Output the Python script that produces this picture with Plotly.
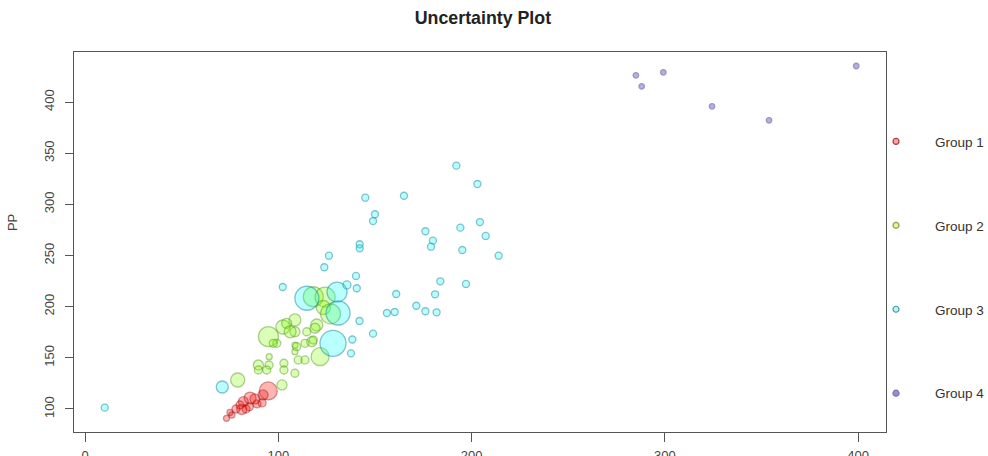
import plotly.graph_objects as go

# ---- data -------------------------------------------------------------
group_names = ["Group 1", "Group 2", "Group 3", "Group 4"]

g1_x = [94.8, 92.1, 85.4, 81.9, 89.0, 85.0, 81.1, 78.1, 80.2, 75.0, 73.2, 76.0, 83.3, 91.6, 87.9]
g1_y = [117.6, 113.7, 110.7, 107.1, 104.9, 102.2, 99.5, 100.0, 103.9, 96.6, 90.9, 94.1, 100.0, 105.9, 109.8]
g1_unc = [18, 10, 12, 10, 8, 8, 10, 8, 8, 6, 6, 6, 8, 8, 10]

g2_x = [94.9, 102.4, 108.6, 118.1, 124.2, 123.3, 121.6, 114.7, 119.9, 117.3, 113.8, 108.6,
        108.6, 110.3, 108.6, 113.8, 102.9, 102.9, 99.2, 95.3, 89.7, 95.2, 89.7, 94.0,
        79.0, 101.9, 119.0, 118.1, 108.6, 104.3, 106.1, 109.5, 97.4, 127.0]
g2_y = [170.7, 180.1, 187.0, 209.7, 209.4, 199.2, 151.1, 175.5, 182.1, 165.8, 164.2, 162.5,
        156.0, 147.9, 134.9, 147.9, 144.7, 138.1, 164.2, 151.1, 143.0, 143.0, 138.1, 138.1,
        128.3, 123.5, 178.9, 167.4, 175.5, 183.7, 175.5, 160.9, 164.2, 193.0]
g2_unc = [20, 14, 12, 20, 20, 14, 18, 8, 12, 10, 8, 6,
          6, 8, 8, 8, 8, 8, 8, 6, 10, 8, 8, 8,
          14, 10, 10, 8, 10, 10, 12, 8, 8, 20]

g3_x = [114.8, 130.4, 130.9, 128.3, 71.0, 135.5,
        10.2, 102.3, 123.8, 126.2, 140.2, 140.6, 142.0, 149.0, 138.3, 137.6, 142.1, 142.1,
        145.0, 150.0, 149.0, 165.0, 161.0, 156.2, 160.2, 171.4, 176.1, 181.9, 181.1, 183.8,
        176.1, 180.0, 179.0, 192.1, 203.0, 194.2, 204.3, 207.3, 195.2, 197.1, 214.0]
g3_y = [208.2, 214.3, 193.8, 164.2, 121.5, 221.2,
        101.3, 219.2, 238.5, 249.8, 230.0, 218.0, 186.0, 173.6, 167.9, 154.4, 261.0, 257.0,
        306.5, 290.3, 283.7, 308.4, 212.4, 193.8, 194.8, 200.9, 195.5, 194.5, 212.1, 224.8,
        273.7, 264.5, 258.6, 337.8, 319.9, 277.2, 282.7, 269.1, 255.4, 222.2, 249.8]
g3_unc = [24, 20, 24, 26, 12, 8,
          7, 7, 7, 7, 7, 7, 7, 7, 7, 7, 7, 7,
          7, 7, 7, 7, 7, 7, 7, 7, 7, 7, 7, 7,
          7, 7, 7, 7, 7, 7, 7, 7, 7, 7, 7]

g4_x = [285.0, 288.0, 299.2, 324.4, 353.9, 399.0]
g4_y = [426.1, 415.4, 429.0, 395.8, 382.1, 435.2]
g4_unc = [5.5, 5.5, 5.5, 5.5, 5.5, 5.5]

x_ticks = [0, 100, 200, 300, 400]
y_ticks = [100, 150, 200, 250, 300, 350, 400]

# ---- styling ----------------------------------------------------------
FONT = "Liberation Sans, Arial, sans-serif"
fills = ["rgba(255,0,0,0.42)", "rgba(127,255,0,0.40)", "rgba(0,255,255,0.38)", "rgba(140,120,200,0.85)"]
edges = ["rgba(150,0,0,0.6)", "rgba(70,140,0,0.6)", "rgba(20,140,165,0.75)", "rgba(110,90,170,0.9)"]
legend_fill = ["rgba(255,160,160,1)", "rgba(230,240,170,1)", "rgba(190,240,240,1)", "rgba(160,140,210,1)"]
legend_edge = ["#b04040", "#90a040", "#40a0a8", "#8070b0"]

series = [(g1_x, g1_y, g1_unc), (g2_x, g2_y, g2_unc), (g3_x, g3_y, g3_unc), (g4_x, g4_y, g4_unc)]

fig = go.Figure()
for i, (xs, ys, unc) in enumerate(series):
    fig.add_trace(go.Scatter(
        x=xs, y=ys, mode="markers", showlegend=False, legendgroup=group_names[i],
        marker=dict(size=unc, sizemode="diameter", color=fills[i],
                    line=dict(color=edges[i], width=1.3)),
        hoverinfo="x+y",
    ))

# legend entries with small uniform symbols
for i, name in enumerate(group_names):
    fig.add_trace(go.Scatter(
        x=[None], y=[None], mode="markers", name=name, legendgroup=name,
        marker=dict(size=6, color=legend_fill[i], line=dict(color=legend_edge[i], width=1.2)),
    ))

axis_common = dict(
    showgrid=False, zeroline=False, showline=True, mirror=True, automargin=False,
    linecolor="#555555", linewidth=1, ticks="outside", tickcolor="#555555",
    tickfont=dict(family=FONT, size=13, color="#444444"),
)

fig.update_layout(
    width=988, height=456,
    margin=dict(l=74, r=102, t=52, b=24, autoexpand=False),
    paper_bgcolor="white", plot_bgcolor="white",
    title=dict(text="<b>Uncertainty Plot</b>", x=0.4888, xanchor="center", y=0.962, yanchor="middle",
               automargin=False, font=dict(family=FONT, size=17.8, color="#222222")),
    xaxis=dict(range=[-5.7, 414.4], tickvals=x_ticks, ticklen=9, ticklabelstandoff=2, **axis_common),
    yaxis=dict(range=[77.5, 448.9], tickvals=y_ticks, ticklen=8, tickangle=-90,
               ticklabelstandoff=6, **axis_common),
    legend=dict(x=0.9643, xanchor="left", y=0.805, yanchor="top", itemwidth=68,
                tracegroupgap=63.4, bgcolor="rgba(0,0,0,0)",
                font=dict(family=FONT, size=13.5, color="#333333")),
    annotations=[dict(text="PP", xref="paper", yref="paper", x=-0.075, y=0.55,
                      xanchor="center", yanchor="middle", textangle=-90, showarrow=False,
                      font=dict(family=FONT, size=13, color="#444444"))],
)

fig.write_html("out.html")
